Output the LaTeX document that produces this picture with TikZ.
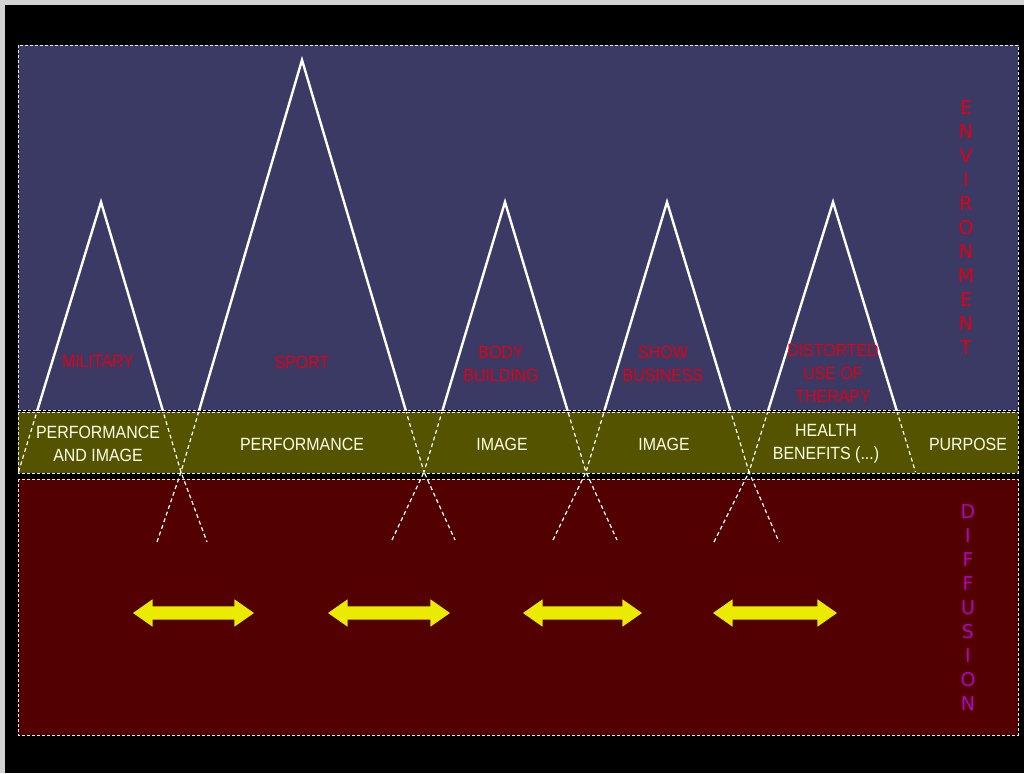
\documentclass[tikz,border=0pt]{standalone}
\usepackage{fontspec}
\setmainfont{Liberation Sans}[FakeStretch=0.9]
\newfontfamily\lettersfont{DejaVu Sans}
\usetikzlibrary{shapes.arrows}
\definecolor{envblue}{RGB}{58,58,100}
\definecolor{purpolive}{RGB}{84,84,0}
\definecolor{difred}{RGB}{82,0,0}
\definecolor{labred}{RGB}{225,0,20}
\definecolor{difmag}{RGB}{180,0,200}
\definecolor{arryellow}{RGB}{235,235,0}
\begin{document}
\begin{tikzpicture}[x=1pt,y=-1pt,
  every node/.style={font=\fontsize{17.7}{23}\selectfont,align=center,inner sep=0pt},
  zone/.style={draw=white!85!gray,line width=0.8pt,dash pattern=on 3pt off 2pt},
  leg/.style={white,line width=2.4pt},
  legdash/.style={white,line width=1.2pt,dash pattern=on 4pt off 3pt},
  lab/.style={text=labred},
  purp/.style={text=white!92!yellow},
  vert/.style={font=\lettersfont\fontsize{19}{24}\selectfont},
  dbl/.style={double arrow,fill=arryellow,minimum height=#1,inner xsep=0pt,inner ysep=6.5pt,
    double arrow head extend=7pt,double arrow tip angle=70}]
  \useasboundingbox (0,0) rectangle (1024,773);
  \fill[gray!35] (0,0) rectangle (1024,773);
  \fill[black] (5,5) rectangle (1024,773);

  % the three zones
  \fill[envblue] (18,45) rectangle (1018,410);
  \fill[purpolive] (18,412) rectangle (1018,473);
  \fill[difred] (18,479) rectangle (1018,735);

  % peaks
  \coordinate (c0) at (18.5,472);
  \coordinate (a1) at (101,202);
  \coordinate (c1) at (181,472);
  \coordinate (a2) at (302,60);
  \coordinate (c2) at (424,472);
  \coordinate (a3) at (505,202);
  \coordinate (c3) at (586,472);
  \coordinate (a4) at (667,202);
  \coordinate (c4) at (749,472);
  \coordinate (a5) at (833,202);
  \coordinate (c5) at (915.5,472);
  \begin{scope}
    \clip (18,45) rectangle (1018,410);
    \draw[leg] (c0) -- (a1) -- (c1) -- (a2) -- (c2) -- (a3) -- (c3) -- (a4) -- (c4) -- (a5) -- (c5);
  \end{scope}
  \begin{scope}
    \clip (18,412) rectangle (1018,473);
    \draw[legdash] (c0) -- (a1) -- (c1) -- (a2) -- (c2) -- (a3) -- (c3) -- (a4) -- (c4) -- (a5) -- (c5);
  \end{scope}

  % spread below the crossings
  \coordinate (l1) at (157,542);
  \coordinate (r1) at (207,542);
  \coordinate (l2) at (392,540);
  \coordinate (r2) at (455,540);
  \coordinate (l3) at (553,540);
  \coordinate (r3) at (617,540);
  \coordinate (l4) at (714,542);
  \coordinate (r4) at (779,542);
  \draw[legdash] (l1) -- (c1) -- (r1);
  \draw[legdash] (l2) -- (c2) -- (r2);
  \draw[legdash] (l3) -- (c3) -- (r3);
  \draw[legdash] (l4) -- (c4) -- (r4);

  \draw[zone] (18,45) rectangle (1018,410);
  \draw[zone] (18,412) rectangle (1018,473);
  \draw[zone] (18,479) rectangle (1018,735);

  \node[lab] (mil) at (98,361) {MILITARY};
  \node[lab] (spt) at (302,362) {SPORT};
  \node[lab] (bb) at (501,364) {BODY\\BUILDING};
  \node[lab] (sb) at (663,364) {SHOW\\BUSINESS};
  \node[lab] (dt) at (833,373) {DISTORTED\\USE OF\\THERAPY};

  \node[purp] (p1) at (98,444) {PERFORMANCE\\AND IMAGE};
  \node[purp] (p2) at (302,444) {PERFORMANCE};
  \node[purp] (p3) at (502,444) {IMAGE};
  \node[purp] (p4) at (664,444) {IMAGE};
  \node[purp] (p5) at (826,444) {HEALTH\\BENEFITS (...)};
  \node[purp] (p6) at (968,444) {PURPOSE};

  \node[vert,text=labred] (env) at (966,228) {E\\N\\V\\I\\R\\O\\N\\M\\E\\N\\T};
  \node[vert,text=difmag] (dif) at (968,608) {D\\I\\F\\F\\U\\S\\I\\O\\N};

  \node[dbl=121pt] (ar1) at (193.5,613) {};
  \node[dbl=122pt] (ar2) at (389,613) {};
  \node[dbl=119pt] (ar3) at (582.5,613) {};
  \node[dbl=124pt] (ar4) at (775,613) {};
\end{tikzpicture}
\end{document}
